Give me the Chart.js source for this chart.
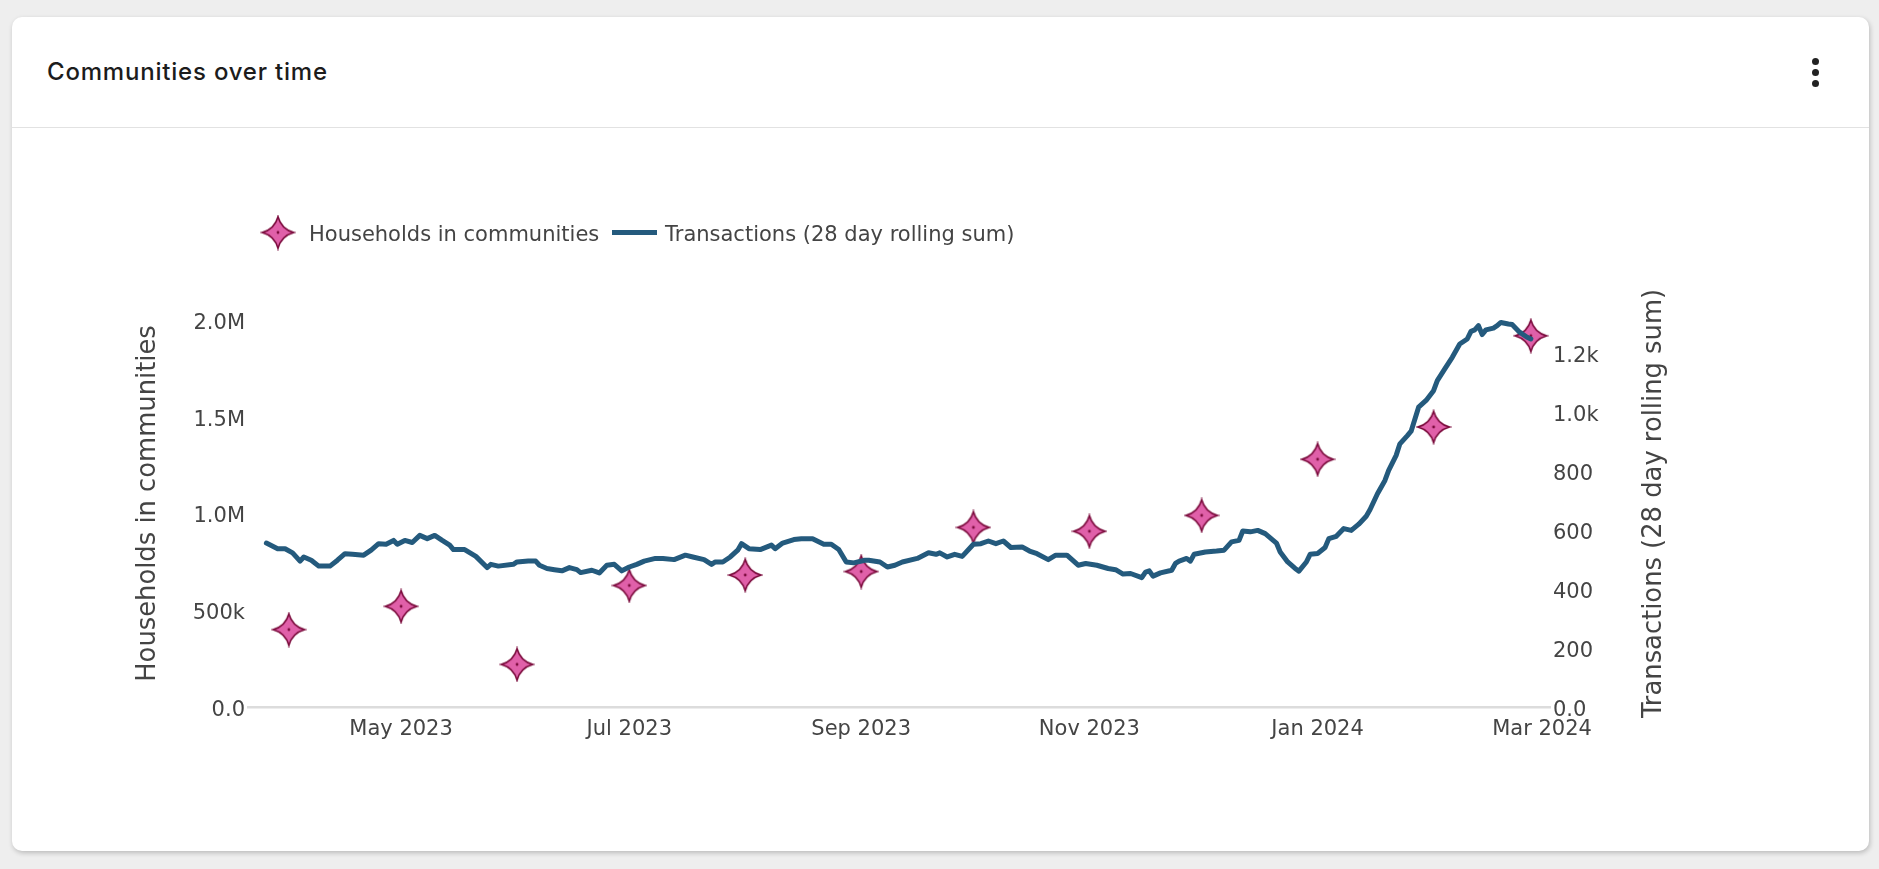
<!DOCTYPE html>
<html>
<head>
<meta charset="utf-8">
<title>Communities over time</title>
<script src="https://cdn.jsdelivr.net/npm/chart.js@4.4.1/dist/chart.umd.min.js"></script>
<style>
  html, body { margin: 0; padding: 0; }
  body { width: 1879px; height: 869px; background: #eeeeee; position: relative; overflow: hidden; }
  .card {
    position: absolute; left: 12px; top: 17px; width: 1857px; height: 834px;
    background: #fff; border-radius: 10px;
    box-shadow: 1px 2px 5px rgba(0,0,0,0.22);
  }
  .card-header {
    height: 110px; border-bottom: 1px solid #e2e2e2; position: relative;
  }
  .card-title {
    position: absolute; left: 35px; top: 40px;
    font-family: Inter, "Noto Sans", sans-serif; font-weight: 500; font-size: 24px;
    color: #1c1c1c; letter-spacing: 0.8px;
  }
  .kebab { position: absolute; left: 1800px; top: 41px; width: 8px; }
  .kebab span { display: block; width: 7px; height: 7px; border-radius: 50%; background: #222; margin-bottom: 4px; }
  #chartWrap { position: absolute; left: 0; top: 0; width: 1879px; height: 869px; }
</style>
</head>
<body>
<div class="card">
  <div class="card-header">
    <div class="card-title">Communities over time</div>
    <div class="kebab"><span></span><span></span><span></span></div>
  </div>
</div>
<div id="chartWrap"><canvas id="chart" width="1879" height="869"></canvas></div>

<script>
// --- DATA ---
const householdDates  = ['2023-04-01','2023-05-01','2023-06-01','2023-07-01','2023-08-01','2023-09-01',
                         '2023-10-01','2023-11-01','2023-12-01','2024-01-01','2024-02-01','2024-02-27'];
const householdValues = [400000, 520000, 220000, 628000, 682000, 700000,
                         928000, 908000, 990000, 1280000, 1447000, 1918000];

const txDates = [
  '2023-03-26','2023-03-29','2023-03-31','2023-04-02','2023-04-04','2023-04-05','2023-04-07','2023-04-09',
  '2023-04-12','2023-04-14','2023-04-16','2023-04-18','2023-04-21','2023-04-23','2023-04-25','2023-04-27',
  '2023-04-29','2023-04-30','2023-05-02','2023-05-04','2023-05-06','2023-05-08','2023-05-10','2023-05-12',
  '2023-05-14','2023-05-15','2023-05-18','2023-05-21','2023-05-24','2023-05-25','2023-05-27','2023-05-31',
  '2023-06-01','2023-06-04','2023-06-06','2023-06-07','2023-06-09','2023-06-11','2023-06-13','2023-06-15',
  '2023-06-17','2023-06-18','2023-06-21','2023-06-23','2023-06-25','2023-06-27','2023-06-29','2023-07-01',
  '2023-07-03','2023-07-05','2023-07-08','2023-07-10','2023-07-13','2023-07-16','2023-07-18','2023-07-21',
  '2023-07-23','2023-07-24','2023-07-26','2023-07-28','2023-07-30','2023-07-31','2023-08-02','2023-08-05',
  '2023-08-08','2023-08-09','2023-08-11','2023-08-14','2023-08-16','2023-08-19','2023-08-22','2023-08-24',
  '2023-08-26','2023-08-28','2023-08-30','2023-09-02','2023-09-03','2023-09-06','2023-09-08','2023-09-10',
  '2023-09-12','2023-09-16','2023-09-19','2023-09-21','2023-09-22','2023-09-24','2023-09-26','2023-09-28',
  '2023-10-01','2023-10-03','2023-10-05','2023-10-07','2023-10-09','2023-10-11','2023-10-14','2023-10-16',
  '2023-10-18','2023-10-21','2023-10-23','2023-10-26','2023-10-29','2023-10-31','2023-11-03','2023-11-06',
  '2023-11-08','2023-11-10','2023-11-12','2023-11-15','2023-11-16','2023-11-17','2023-11-18','2023-11-20',
  '2023-11-23','2023-11-24','2023-11-25','2023-11-27','2023-11-28','2023-11-29','2023-12-02','2023-12-05',
  '2023-12-07','2023-12-09','2023-12-11','2023-12-12','2023-12-14','2023-12-16','2023-12-18','2023-12-21',
  '2023-12-22','2023-12-24','2023-12-26','2023-12-27','2023-12-29','2023-12-30','2024-01-01','2024-01-03',
  '2024-01-04','2024-01-06','2024-01-08','2024-01-10','2024-01-12','2024-01-14','2024-01-15','2024-01-17',
  '2024-01-19','2024-01-20','2024-01-22','2024-01-23','2024-01-25','2024-01-26','2024-01-28','2024-01-30',
  '2024-02-01','2024-02-02','2024-02-04','2024-02-06','2024-02-08','2024-02-10','2024-02-11','2024-02-12',
  '2024-02-13','2024-02-14','2024-02-15','2024-02-17','2024-02-18','2024-02-19','2024-02-21','2024-02-22',
  '2024-02-24','2024-02-26','2024-02-27'
];
const txValues = [
  555, 536, 536, 522, 494, 508, 497, 477,
  477, 497, 519, 517, 514, 531, 553, 551,
  564, 551, 564, 557, 581, 570, 581, 564,
  548, 533, 533, 510, 472, 483, 477, 483,
  491, 494, 494, 480, 469, 465, 461, 472,
  465, 455, 463, 454, 480, 483, 461, 474,
  483, 494, 503, 503, 499, 514, 508, 499,
  483, 491, 491, 508, 531, 553, 536, 533,
  548, 536, 555, 567, 570, 570, 551, 551,
  533, 491, 488, 497, 497, 491, 474, 480,
  491, 503, 522, 517, 522, 508, 517, 510,
  551, 553, 562, 553, 562, 540, 542, 528,
  519, 499, 514, 514, 480, 486, 480, 469,
  465, 450, 452, 438, 457, 461, 443, 454,
  463, 486, 494, 503, 494, 517, 525, 528,
  531, 559, 564, 596, 593, 598, 587, 555,
  525, 491, 469, 460, 491, 517, 520, 540,
  570, 578, 604, 598, 619, 646, 668, 722,
  767, 801, 852, 891, 919, 934, 1015, 1038,
  1071, 1105, 1145, 1184, 1229, 1246, 1272, 1277,
  1291, 1261, 1277, 1283, 1291, 1302, 1297, 1295,
  1269, 1252, 1246
];

const xTickDates  = ['2023-05-01','2023-07-01','2023-09-01','2023-11-01','2024-01-01','2024-03-01'];
const xTickLabels = ['May 2023','Jul 2023','Sep 2023','Nov 2023','Jan 2024','Mar 2024'];
const yLeftTicks       = [0, 500000, 1000000, 1500000, 2000000];
const yLeftTickLabels  = ['0.0','500k','1.0M','1.5M','2.0M'];
const yRightTicks      = [0, 200, 400, 600, 800, 1000, 1200];
const yRightTickLabels = ['0.0','200','400','600','800','1.0k','1.2k'];

const householdLabel = 'Households in communities';
const txLabel        = 'Transactions (28 day rolling sum)';

// --- STYLE ---
const LINE_COLOR   = '#245a7d';
const STAR_FILL    = '#e060a9';
const STAR_STROKE  = '#7a0a3b';
const TEXT_COLOR   = '#444444';
const FONT         = '"DejaVu Sans", Verdana, sans-serif';

const toTime = s => Date.parse(s + 'T00:00:00Z');

// plotly-ish "star-diamond-dot": 4 tips joined by shallow concave arcs.
// d = how far the middle of each side sits from the centre, as a share of R
function makeStar(R, d) {
  const size = Math.ceil(R * 2 + 4);
  const c = document.createElement('canvas');
  c.width = size; c.height = size;
  const ctx = c.getContext('2d');
  const cx = size / 2, cy = size / 2;
  const h = Math.SQRT1_2 * R;                 // half chord
  const s = Math.SQRT1_2 * R - d * R;         // sagitta
  const ra = (h * h + s * s) / (2 * s);
  const k = (Math.SQRT1_2 * R + ra - s) * Math.SQRT1_2;
  const tips = [[0, -R], [R, 0], [0, R], [-R, 0]];
  const corners = [[1, -1], [1, 1], [-1, 1], [-1, -1]];
  ctx.beginPath();
  ctx.moveTo(cx, cy - R);
  for (let i = 0; i < 4; i++) {
    const p0 = tips[i], p1 = tips[(i + 1) % 4];
    const ox = corners[i][0] * k, oy = corners[i][1] * k;
    const a0 = Math.atan2(p0[1] - oy, p0[0] - ox);
    const a1 = Math.atan2(p1[1] - oy, p1[0] - ox);
    ctx.arc(cx + ox, cy + oy, ra, a0, a1, true);
  }
  ctx.closePath();
  ctx.fillStyle = STAR_FILL;
  ctx.fill();
  ctx.lineWidth = 1.6;
  ctx.strokeStyle = STAR_STROKE;
  ctx.stroke();
  ctx.beginPath();
  ctx.arc(cx, cy, 1.4, 0, Math.PI * 2);
  ctx.fillStyle = STAR_STROKE;
  ctx.fill();
  return c;
}
const starImg = makeStar(15.8, 0.52);

// legend + axis titles drawn by hand (plotly-like placement)
const extrasPlugin = {
  id: 'extras',
  afterDraw(chart) {
    const ctx = chart.ctx;
    const area = chart.chartArea;
    ctx.save();
    // legend
    const ly = 235.5;
    ctx.drawImage(starImg, 278 - starImg.width / 2, 232.5 - starImg.height / 2);
    ctx.font = '21px ' + FONT;
    ctx.fillStyle = TEXT_COLOR;
    ctx.textBaseline = 'middle';
    ctx.textAlign = 'left';
    ctx.fillText(householdLabel, 309, ly);
    ctx.beginPath();
    ctx.moveTo(612, 232.5); ctx.lineTo(657, 232.5);
    ctx.lineWidth = 5; ctx.strokeStyle = LINE_COLOR; ctx.stroke();
    ctx.fillText(txLabel, 665, ly);

    // axis titles, both reading bottom-to-top
    const midY = (area.top + area.bottom) / 2;
    ctx.font = '25.8px ' + FONT;
    ctx.textAlign = 'center';
    ctx.textBaseline = 'alphabetic';
    [[155, householdLabel], [1661, txLabel]].forEach(([x, t]) => {
      ctx.save();
      ctx.translate(x, midY);
      ctx.rotate(-Math.PI / 2);
      ctx.fillText(t, 0, 0);
      ctx.restore();
    });
    ctx.restore();
  }
};

const tickFont = { family: FONT, size: 21 };

new Chart(document.getElementById('chart'), {
  type: 'line',
  data: {
    datasets: [
      {
        type: 'line',
        label: txLabel,
        data: txDates.map((d, i) => ({ x: toTime(d), y: txValues[i] })),
        yAxisID: 'y2',
        borderColor: LINE_COLOR,
        borderWidth: 5,
        borderJoinStyle: 'round',
        borderCapStyle: 'round',
        pointRadius: 0,
        tension: 0,
        fill: false,
        order: 0
      },
      {
        type: 'scatter',
        label: householdLabel,
        data: householdDates.map((d, i) => ({ x: toTime(d), y: householdValues[i] })),
        yAxisID: 'y',
        pointStyle: starImg,
        pointRadius: 5,
        showLine: false,
        order: 1
      }
    ]
  },
  options: {
    responsive: false,
    animation: false,
    layout: { padding: { top: 300, left: 0, right: 0, bottom: 0 } },
    plugins: { legend: { display: false }, tooltip: { enabled: false } },
    scales: {
      x: {
        type: 'linear',
        min: Date.parse('2023-03-21T02:00:00Z'),
        max: Date.parse('2024-03-03T03:00:00Z'),
        afterBuildTicks: s => { s.ticks = xTickDates.map(d => ({ value: toTime(d) })); },
        afterFit: s => { s.height = 162; },
        grid: { display: false, drawTicks: false },
        border: { display: true, color: '#dcdcdc', width: 2.5 },
        ticks: {
          padding: 9.5, color: TEXT_COLOR, font: tickFont, maxRotation: 0, autoSkip: false,
          callback: v => xTickLabels[xTickDates.map(toTime).indexOf(v)]
        }
      },
      y: {
        position: 'left',
        min: 0, max: 2103000,
        afterBuildTicks: s => { s.ticks = yLeftTicks.map(v => ({ value: v })); },
        afterFit: s => { s.width = 248; },
        grid: { display: false, drawTicks: false },
        border: { display: false },
        ticks: {
          padding: 3, labelOffset: 3.5, color: TEXT_COLOR, font: tickFont,
          callback: v => yLeftTickLabels[yLeftTicks.indexOf(v)]
        }
      },
      y2: {
        position: 'right',
        min: 0, max: 1378,
        afterBuildTicks: s => { s.ticks = yRightTicks.map(v => ({ value: v })); },
        afterFit: s => { s.width = 329; },
        grid: { display: false, drawTicks: false },
        border: { display: false },
        ticks: {
          padding: 3, labelOffset: 3.5, color: TEXT_COLOR, font: tickFont,
          callback: v => yRightTickLabels[yRightTicks.indexOf(v)]
        }
      }
    }
  },
  plugins: [extrasPlugin]
});
</script>
</body>
</html>
